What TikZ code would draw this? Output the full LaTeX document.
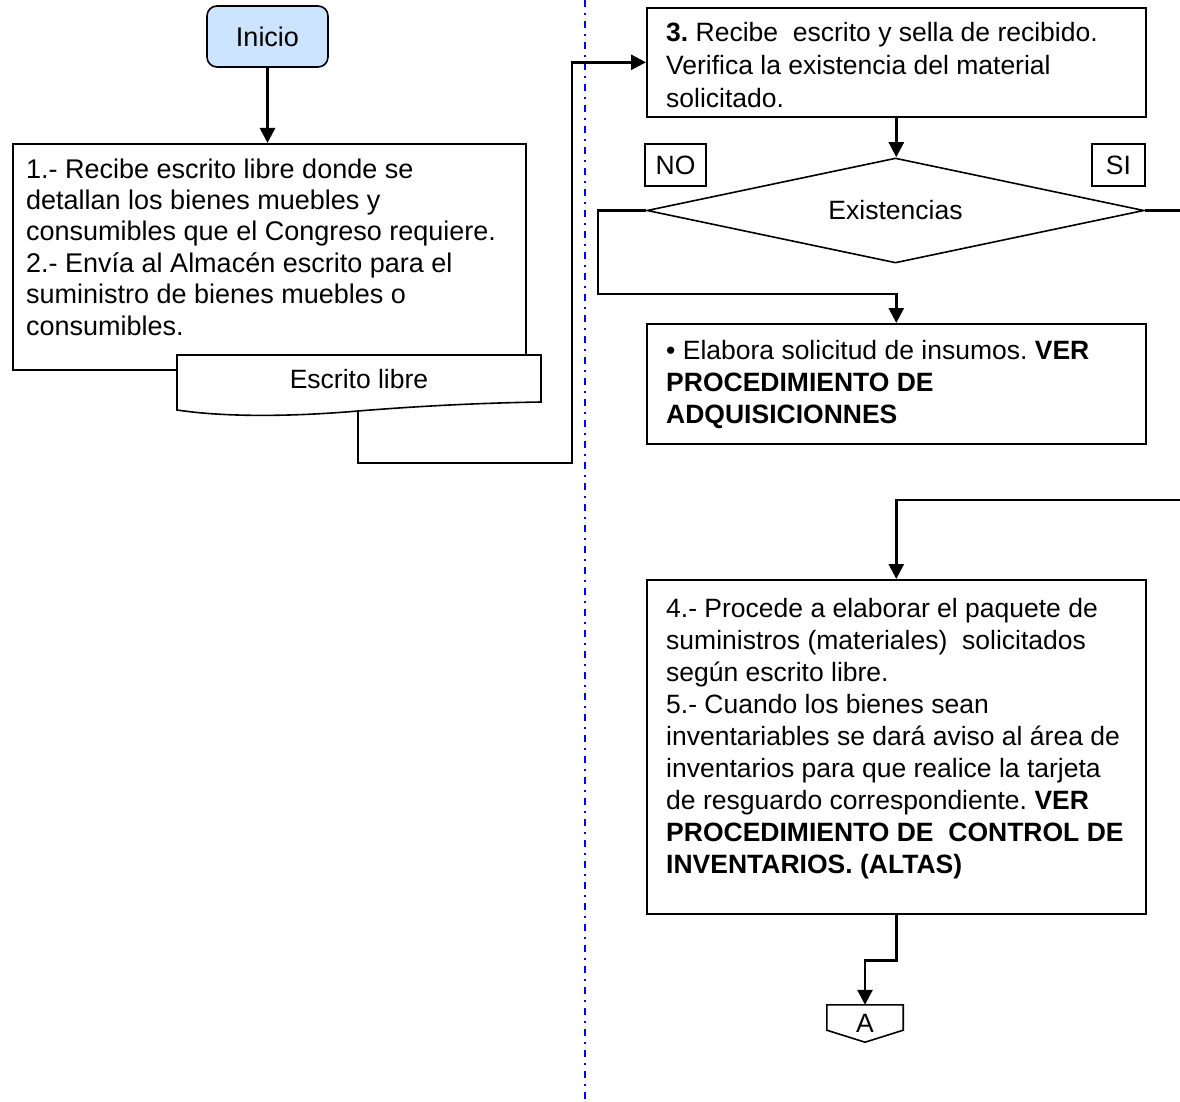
\documentclass[tikz,border=0pt]{standalone}
\usepackage{fontspec}
\setmainfont{Liberation Sans}
\usetikzlibrary{arrows.meta,shapes.geometric,calc}
\definecolor{startfill}{RGB}{204,228,255}
\frenchspacing
\begin{document}
\begin{tikzpicture}[x=1pt,y=-1pt,
  shapeline/.style={line width=1.6pt},
  box/.style={shapeline,draw,rectangle,inner sep=0pt,anchor=north west,fill=white},
  tag/.style={shapeline,draw,rectangle,inner sep=0pt,font=\fontsize{26.5}{32}\selectfont},
  % multi-line texts are placed by the baseline of their last line
  lefttxt/.style={anchor=base west,align=left,inner sep=0pt,font=\fontsize{27}{31.4}\selectfont},
  righttxt/.style={anchor=base west,align=left,inner sep=0pt,font=\fontsize{26.5}{32}\selectfont},
  flow/.style={line width=2.7pt,-{Triangle[length=15pt,width=15pt]}},
  link/.style={line width=2.7pt},
  lane/.style={blue,line width=1.6pt,dash pattern=on 7pt off 6pt on 2pt off 6pt}]

\useasboundingbox (0,0) rectangle (1180,1102);

% lane separator
\draw[lane] (585,0) -- (585,1102);

% ---------- left lane ----------
\node[shapeline,draw,rounded corners=10pt,fill=startfill,minimum width=121pt,
      minimum height=61pt,inner sep=0pt,font=\fontsize{27}{32}\selectfont]
      (ini) at (267.5,36.5) {Inicio};

\node[box,minimum width=513pt,minimum height=226pt] (b1) at (12,143) {};
\node[lefttxt] (t1) at (26,335) {1.- Recibe escrito libre donde se\\
detallan los bienes muebles y\\
consumibles que el Congreso requiere.\\
2.- Envía al Almacén escrito para el\\
suministro de bienes muebles o\\
consumibles.};

\draw[flow] (ini.south) -- (ini.south |- b1.north);

% document symbol
\draw[shapeline,fill=white] (177,355) -- (541,355) -- (541,402)
  .. controls (480,403) and (420,406) .. (358,411)
  .. controls (300,416) and (230,418) .. (177,410) -- cycle;
\node[inner sep=0pt,font=\fontsize{26.5}{32}\selectfont] (doc) at (359,379) {Escrito libre};
\coordinate (docb) at (358,411);

% ---------- right lane ----------
\node[box,minimum width=499pt,minimum height=109pt] (b3) at (646,7) {};
\node[righttxt,font=\fontsize{26.5}{33}\selectfont] (t3) at (666,108)
  {\textbf{3.} Recibe\ \ escrito y sella de recibido.\\
Verifica la existencia del material\\
solicitado.};

\draw[flow] (docb) |- (572,463) |- (b3.west);

\node[shapeline,draw,diamond,aspect=4.73,minimum width=497pt,minimum height=105pt,
      inner sep=0pt,font=\fontsize{26.5}{32}\selectfont] (dia) at (895.5,210.5) {Existencias};
\draw[flow] (b3.south) -- (b3.south |- dia.north);

\node[tag,minimum width=61pt,minimum height=42pt] (no) at (675.5,165) {NO};
\node[tag,minimum width=53pt,minimum height=42pt] (yes) at (1118.5,165) {SI};

\node[box,minimum width=499pt,minimum height=120pt] (b4) at (646,323) {};
\node[righttxt] (t4) at (666,423) {• Elabora solicitud de insumos. \textbf{VER}\\
\textbf{PROCEDIMIENTO DE}\\
\textbf{ADQUISICIONNES}};

\draw[flow] (dia.west) -| (598,294) -| (b4.north);

\coordinate (siout) at (1180,210.5);
\draw[link] (dia.east) -- (siout);

\node[box,minimum width=499pt,minimum height=334pt] (b5) at (646,579) {};
\node[righttxt] (t5) at (666,873) {4.- Procede a elaborar el paquete de\\
suministros (materiales)\ \ solicitados\\
según escrito libre.\\
5.- Cuando los bienes sean\\
inventariables se dará aviso al área de\\
inventarios para que realice la tarjeta\\
de resguardo correspondiente. \textbf{VER}\\
\textbf{PROCEDIMIENTO DE\ \ CONTROL DE}\\
\textbf{INVENTARIOS. (ALTAS)}};

\coordinate (siin) at (1180,500);
\draw[flow] (siin) -| (b5.north);

% off-page connector
\node[minimum width=76pt,minimum height=37pt,inner sep=0pt,
      font=\fontsize{26.5}{32}\selectfont] (A) at (865,1023.5) {A};
\draw[shapeline] (A.north west) -- (A.north east) -- ($(A.south east)+(0,-12)$)
  -- (A.south) -- ($(A.south west)+(0,-12)$) -- cycle;
\draw[flow] (b5.south) -- ++(0,46) -| (A.north);

\end{tikzpicture}
\end{document}
